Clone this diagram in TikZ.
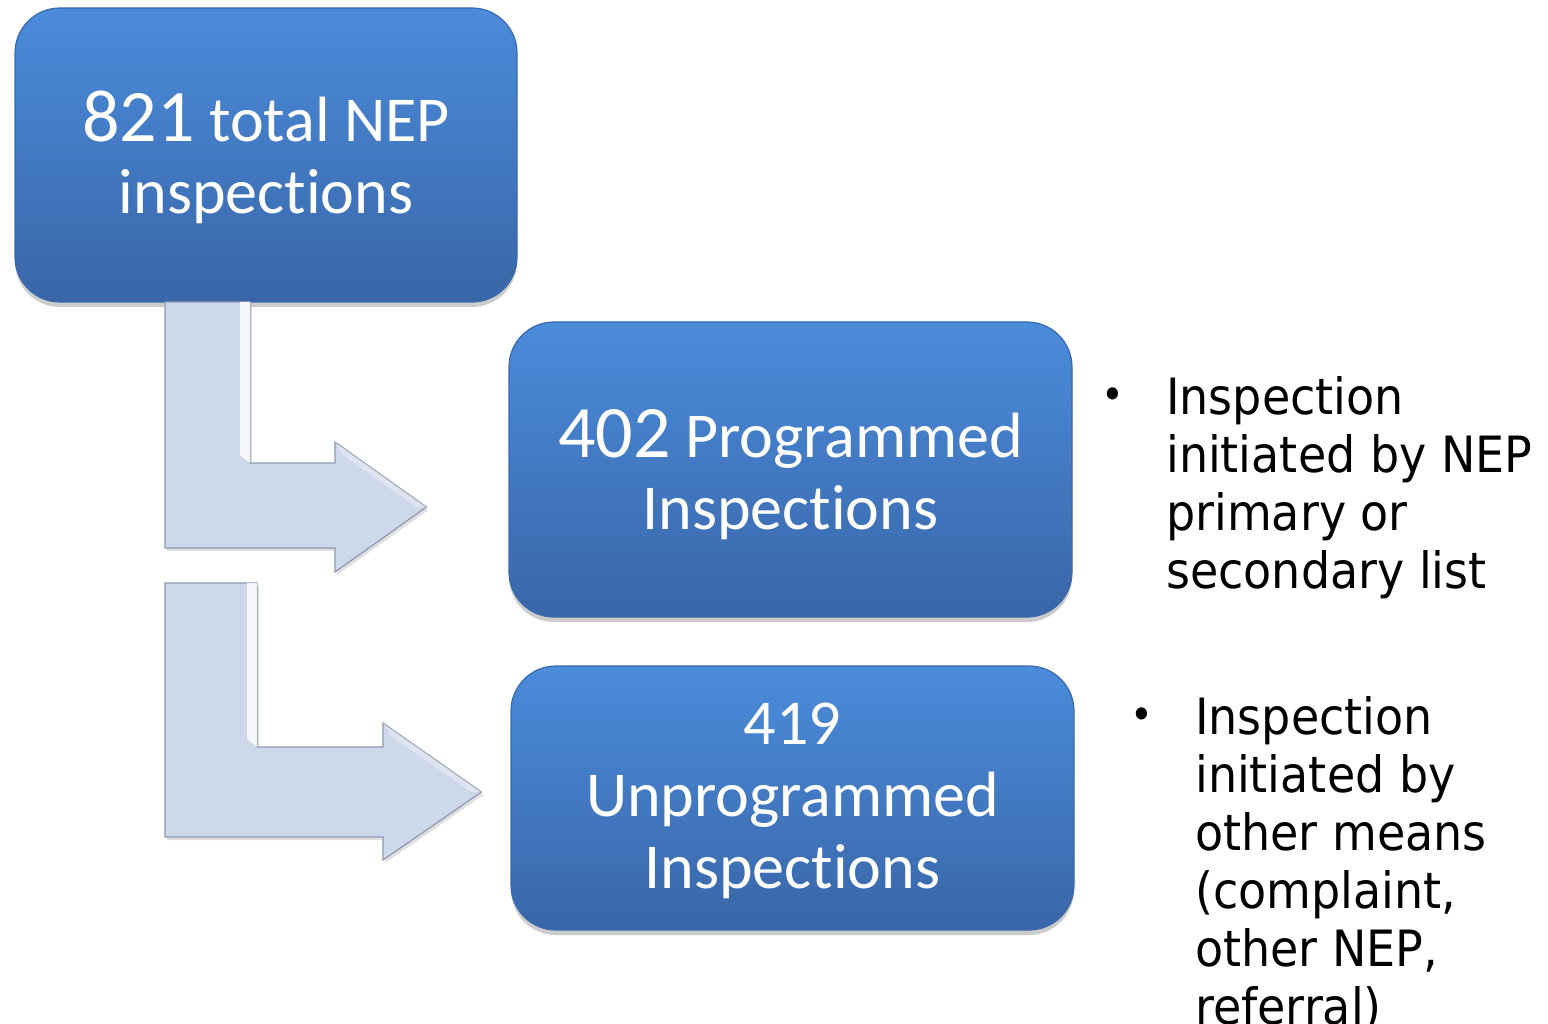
\documentclass[tikz,border=0pt]{standalone}
\usepackage{fontspec}
\setmainfont{Carlito}[Ligatures=NoCommon]
\newfontfamily\bulletfont[FakeStretch=0.92]{DejaVu Sans}
\usetikzlibrary{shadows}
\definecolor{boxtop}{HTML}{4B8CDB}
\definecolor{boxbot}{HTML}{3966A8}
\definecolor{boxedge}{HTML}{3A69AE}
\definecolor{arrfill}{HTML}{CDD8EA}
\definecolor{arredge}{HTML}{8E9AB0}
\tikzset{
  bluebox/.style={rounded corners=45pt, top color=boxtop, bottom color=boxbot,
    draw=boxedge, line width=1.2pt, inner sep=0pt,
    drop shadow={shadow xshift=0pt, shadow yshift=-5pt, opacity=0.4}},
  boxtext/.style={text=white, align=center, inner sep=0pt,
    font=\fontsize{64}{72}\selectfont},
  bentarrow/.style={fill=arrfill, draw=arredge, line width=1.2pt, line join=miter,
    drop shadow={shadow xshift=2pt, shadow yshift=-3pt, opacity=0.25}},
  bevel/.style={fill=white, opacity=0.8},
  bullettext/.style={anchor=north west, align=left, inner sep=0pt,
    font=\bulletfont\fontsize{50}{58}\selectfont},
  bulletdot/.style={inner sep=0pt, font=\bulletfont\fontsize{42}{42}\selectfont}
}
\newcommand{\bignum}[1]{{\fontsize{74}{72}\selectfont #1}}
\begin{document}
\begin{tikzpicture}[x=1pt,y=-1pt]
\useasboundingbox (0,0) rectangle (1548,1024);
\fill[white] (0,0) rectangle (1548,1024);

% boxes
\node[bluebox, minimum width=502pt, minimum height=294pt] (total) at (266,155) {};
\node[bluebox, minimum width=563pt, minimum height=295pt] (prog) at (790.5,469.5) {};
\node[bluebox, minimum width=563pt, minimum height=264pt] (unprog) at (792.5,798) {};

% bent arrows from the total box to the two sub boxes
\coordinate (a1tip) at ([xshift=-82pt]prog.west |- 0,507);
\coordinate (a2tip) at ([xshift=-29pt]unprog.west |- 0,792);
\draw[bentarrow] (165,302) -- (250,302) -- (250,463) -- (335,463) -- (335,442)
  -- (a1tip) -- (335,572) -- (335,548) -- (165,548) -- cycle;
\fill[bevel] (240,302) -- (250,302) -- (250,463) -- (240,455) -- cycle;
\fill[bevel,opacity=0.35] (335,442) -- (a1tip) -- ([xshift=-10pt]a1tip) -- (343,455) -- cycle;

\draw[bentarrow] (165,583) -- (257,583) -- (257,747) -- (383,747) -- (383,723)
  -- (a2tip) -- (383,860) -- (383,837) -- (165,837) -- cycle;
\fill[bevel] (247,583) -- (257,583) -- (257,747) -- (247,739) -- cycle;
\fill[bevel,opacity=0.35] (383,723) -- (a2tip) -- ([xshift=-10pt]a2tip) -- (391,736) -- cycle;

% box texts
\node[boxtext] (totaltxt) at ([yshift=-2pt]total.center)
  {\bignum{821} total NEP\\inspections};
\node[boxtext] (progtxt) at ([yshift=-5pt]prog.center)
  {\bignum{402} Programmed\\Inspections};
\node[boxtext] (unprogtxt) at ([yshift=-3pt]unprog.center)
  {419\\Unprogrammed\\Inspections};

% bullet notes
\node[bulletdot] (b1) at (1113,399) {•};
\node[bullettext] (t1) at (1166,376)
  {Inspection\\initiated by NEP\\primary or\\secondary list};
\node[bulletdot] (b2) at (1142,719) {•};
\node[bullettext] (t2) at (1195,696)
  {Inspection\\initiated by\\other means\\(complaint,\\other NEP,\\referral)};
\end{tikzpicture}
\end{document}
